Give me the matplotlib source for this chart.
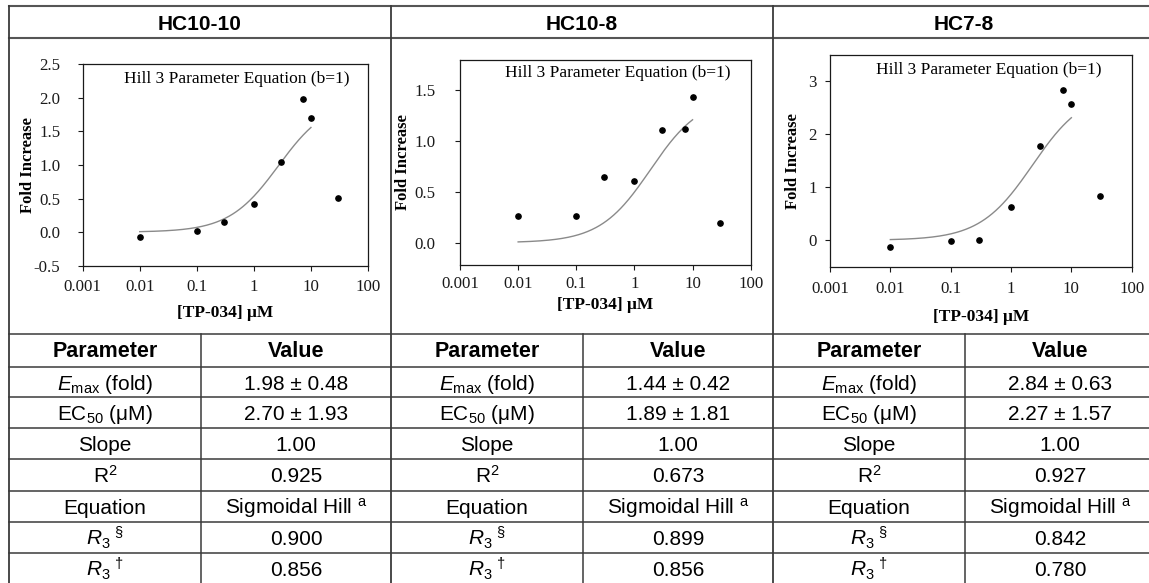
import numpy as np
import matplotlib.pyplot as plt
from matplotlib.lines import Line2D
from matplotlib.ticker import NullLocator

# ----------------------------
# Data
# ----------------------------

cell_lines = ["HC10-10", "HC10-8", "HC7-8"]

conc_um = [0.01, 0.1, 0.3, 1, 3, 7.4, 10, 30]
fold_hc10_10 = [-0.07, 0.02, 0.15, 0.42, 1.04, 1.98, 1.70, 0.51]
fold_hc10_8 = [0.26, 0.26, 0.65, 0.61, 1.11, 1.12, 1.44, 0.19]
fold_hc7_8 = [-0.12, -0.01, 0.01, 0.62, 1.78, 2.84, 2.58, 0.83]
fold_series = [fold_hc10_10, fold_hc10_8, fold_hc7_8]

# fitted Hill parameters (b = 1)
emax = [1.98, 1.44, 2.84]
ec50 = [2.70, 1.89, 2.27]
fit_range = (0.01, 10)

xticks = [0.001, 0.01, 0.1, 1, 10, 100]
xtick_labels = ["0.001", "0.01", "0.1", "1", "10", "100"]
yticks = [
    [-0.5, 0.0, 0.5, 1.0, 1.5, 2.0, 2.5],
    [0.0, 0.5, 1.0, 1.5],
    [0, 1, 2, 3],
]
ytick_labels = [
    ["-0.5", "0.0", "0.5", "1.0", "1.5", "2.0", "2.5"],
    ["0.0", "0.5", "1.0", "1.5"],
    ["0", "1", "2", "3"],
]
ylims = [(-0.5, 2.5), (-0.22, 1.8), (-0.5, 3.5)]

param_names = [
    r"$\mathit{E}_{\mathrm{max}}$ (fold)",
    r"EC$_{50}$ (μM)",
    "Slope",
    r"R$^{2}$",
    "Equation",
    r"$\mathit{R}_{3}\;{}^{\S}$",
    r"$\mathit{R}_{3}\;{}^{\dag}$",
]
param_values = [
    ["1.98 ± 0.48", "2.70 ± 1.93", "1.00", "0.925",
     r"Sigmoidal Hill $^{\mathrm{a}}$", "0.900", "0.856"],
    ["1.44 ± 0.42", "1.89 ± 1.81", "1.00", "0.673",
     r"Sigmoidal Hill $^{\mathrm{a}}$", "0.899", "0.856"],
    ["2.84 ± 0.63", "2.27 ± 1.57", "1.00", "0.927",
     r"Sigmoidal Hill $^{\mathrm{a}}$", "0.842", "0.780"],
]

# ----------------------------
# Layout (pixels)
# ----------------------------

W, H = 1149, 583
col_left = [9, 391, 773]
col_width = 382
split_offset = 192
row_lines = [334, 367, 397, 428, 459, 491, 522, 553, 584]

# axes boxes: left, right, top, bottom
ax_boxes = [
    (82.7, 368.0, 64.3, 265.7),
    (460.0, 750.7, 60.0, 265.0),
    (830.0, 1131.7, 55.0, 266.7),
]
ylabel_x = [28.5, 403, 793]
xlabel_y = [312.5, 305, 317]
ytick_pad = [12.5, 14, 6]
xtick_pad = [6, 4.5, 7]
note_pos = [(236.7, 79), (617.5, 73.3), (988.3, 70)]

plt.rcParams["font.family"] = "Liberation Serif"
plt.rcParams["mathtext.fontset"] = "custom"
plt.rcParams["mathtext.rm"] = "Liberation Sans"
plt.rcParams["mathtext.it"] = "Liberation Sans:italic"
plt.rcParams["mathtext.bf"] = "Liberation Sans:bold"

fig = plt.figure(figsize=(W / 100, H / 100), dpi=100)


def fx(x):
    return x / W


def fy(y):
    return 1 - y / H


def line(xs, ys, lw=1.1, color="#3a3a3a"):
    fig.add_artist(Line2D([fx(x) for x in xs], [fy(y) for y in ys],
                          transform=fig.transFigure, lw=lw, color=color))


SANS = "Liberation Sans"

# ----------------------------
# Grid
# ----------------------------

line([col_left[0], W], [5.7, 5.7], lw=1.5, color="#555555")
line([col_left[0], W], [37.7, 37.7], lw=1.5, color="#555555")
for y in row_lines[:-1]:
    line([col_left[0], W], [y, y])
for x in col_left:
    line([x, x], [5.7, row_lines[-1]], lw=1.3)
    line([x + split_offset, x + split_offset], [row_lines[0], row_lines[-1]])

# ----------------------------
# Panels
# ----------------------------

for i, name in enumerate(cell_lines):
    cx = col_left[i] + col_width / 2
    fig.text(fx(cx), fy(30.5), name, family=SANS, weight="bold",
             fontsize=15, ha="center", va="baseline")

    left, right, top, bottom = ax_boxes[i]
    ax = fig.add_axes([fx(left), fy(bottom), (right - left) / W, (bottom - top) / H])

    xs = np.logspace(np.log10(fit_range[0]), np.log10(fit_range[1]), 200)
    ax.plot(xs, emax[i] * xs / (ec50[i] + xs), color="#8a8a8a", lw=1.0)
    ax.plot(conc_um, fold_series[i], "o", color="black", ms=3.8)

    ax.set_xscale("log")
    ax.set_xlim(1e-3, 100)
    ax.set_ylim(*ylims[i])
    ax.set_xticks(xticks)
    ax.set_xticklabels(xtick_labels)
    ax.xaxis.set_minor_locator(NullLocator())
    ax.set_yticks(yticks[i])
    ax.set_yticklabels(ytick_labels[i])
    ax.tick_params(axis="both", direction="out", length=3.5, width=0.8,
                   labelsize=12.2, colors="#1a1a1a")
    ax.tick_params(axis="y", pad=ytick_pad[i])
    ax.tick_params(axis="x", pad=xtick_pad[i])
    for s in ax.spines.values():
        s.set_linewidth(0.9)
        s.set_color("#1a1a1a")

    ax.set_ylabel("Fold Increase", fontsize=12, weight="bold", va="center")
    ax.yaxis.set_label_coords((ylabel_x[i] - left) / (right - left), 0.5)
    ax.set_xlabel("[TP-034] μM", fontsize=12.5, weight="bold", va="center")
    ax.xaxis.set_label_coords(0.5, (bottom - xlabel_y[i]) / (bottom - top))

    nx, ny = note_pos[i]
    fig.text(fx(nx), fy(ny), "Hill 3 Parameter Equation (b=1)",
             fontsize=12.5, ha="center", va="center")

    # parameter table
    pcx = col_left[i] + split_offset / 2
    vcx = col_left[i] + split_offset + (col_width - split_offset) / 2
    fig.text(fx(pcx), fy(357), "Parameter", family=SANS, weight="bold",
             fontsize=15.5, ha="center", va="baseline")
    fig.text(fx(vcx), fy(357), "Value", family=SANS, weight="bold",
             fontsize=15.5, ha="center", va="baseline")
    for r, (pname, val) in enumerate(zip(param_names, param_values[i])):
        y0, y1 = row_lines[r + 1], row_lines[r + 2]
        yb = (y0 + y1) / 2 + 7.5
        fig.text(fx(pcx), fy(yb), pname, family=SANS, fontsize=15,
                 ha="center", va="baseline")
        fig.text(fx(vcx), fy(yb), val, family=SANS, fontsize=15,
                 ha="center", va="baseline")

fig.savefig("out.png", dpi=100)
